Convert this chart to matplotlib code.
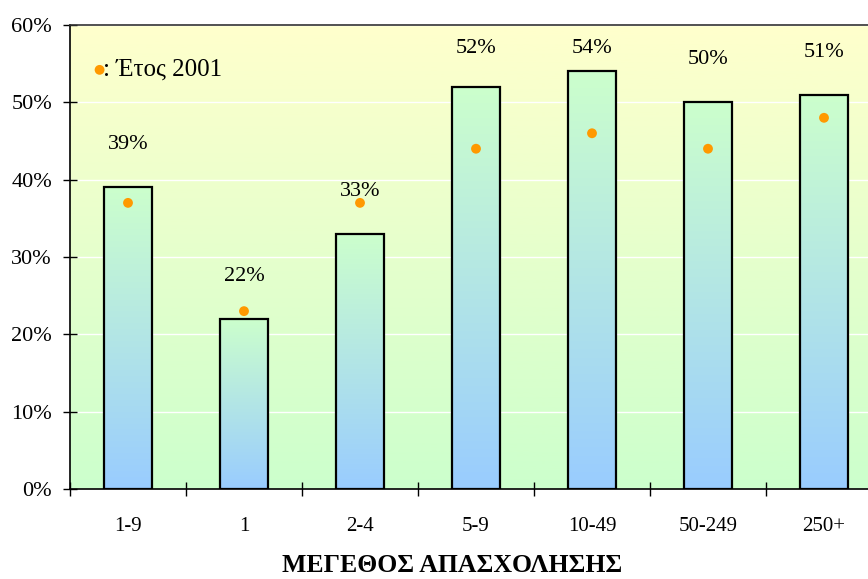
import numpy as np
import matplotlib.pyplot as plt
from matplotlib.colors import LinearSegmentedColormap
from matplotlib.ticker import MultipleLocator, FuncFormatter

plt.rcParams['font.family'] = ['Liberation Serif', 'DejaVu Serif']

categories = ["1-9", "1", "2-4", "5-9", "10-49", "50-249", "250+"]
values_2005 = [39, 22, 33, 52, 54, 50, 51]
values_2001 = [37, 23, 37, 44, 46, 44, 48]

fig = plt.figure(figsize=(8.68, 5.79), dpi=100)
ax = fig.add_axes([70 / 868, 1 - 489 / 579, 812 / 868, 464 / 579])

x = np.arange(len(categories))
n = len(categories)

# background gradient (pale yellow top -> light green bottom)
bg_cmap = LinearSegmentedColormap.from_list("bg", ["#ccffcc", "#ffffcc"])
grad = np.linspace(0, 1, 256).reshape(-1, 1)
ax.imshow(grad, cmap=bg_cmap, origin="lower", aspect="auto",
          extent=[-0.5, n - 0.5, 0, 60], zorder=0)

ax.yaxis.set_major_locator(MultipleLocator(10))
ax.grid(axis="y", color="white", linewidth=1, zorder=1)

# bars with blue (bottom) -> green (top) gradient, per bar
bar_cmap = LinearSegmentedColormap.from_list("bar", ["#99ccff", "#ccffcc"])
width = 0.41
bars = ax.bar(x, values_2005, width=width, facecolor="none",
              edgecolor="black", linewidth=1.6, zorder=3)
for b in bars:
    x0, w, h = b.get_x(), b.get_width(), b.get_height()
    ax.imshow(grad, cmap=bar_cmap, origin="lower", aspect="auto",
              extent=[x0, x0 + w, 0, h], zorder=2)

ax.set_xlim(-0.5, n - 0.5)
ax.set_ylim(0, 60)

# 2001 dots
ax.scatter(x, values_2001, s=50, color="#ff9900", edgecolor="none", zorder=4)

# value labels
for xi, v in zip(x, values_2005):
    ax.text(xi, min(v + 5.5, 57.0), f"{v}%", ha="center", va="center",
            fontsize=16, zorder=5)

# legend-like text
ax.scatter([-0.245], [54.2], s=50, color="#ff9900", edgecolor="none",
           zorder=4, clip_on=False)
ax.text(-0.215, 54.2, ": Έτος 2001", fontsize=18, va="center", ha="left")

ax.yaxis.set_major_formatter(FuncFormatter(lambda v, p: f"{v:.0f}%"))
ax.set_xticks(x)
ax.set_xticklabels(categories)
ax.set_xticks(np.arange(-0.5, n), minor=True)
ax.tick_params(axis="x", which="major", length=0, pad=20, labelsize=15)
ax.tick_params(axis="x", which="minor", direction="inout", length=10, width=1)
ax.tick_params(axis="y", direction="inout", length=10, width=1,
               labelsize=16, pad=8)

for s in ["left", "bottom", "top"]:
    ax.spines[s].set_linewidth(1.2)
ax.spines["top"].set_color("#333333")
ax.spines["right"].set_visible(False)

fig.text(452 / 868, 1 - 566 / 579, "ΜΕΓΕΘΟΣ ΑΠΑΣΧΟΛΗΣΗΣ", fontsize=18.5,
         fontweight="bold", ha="center", va="center")

fig.savefig("out.png", dpi=100)
